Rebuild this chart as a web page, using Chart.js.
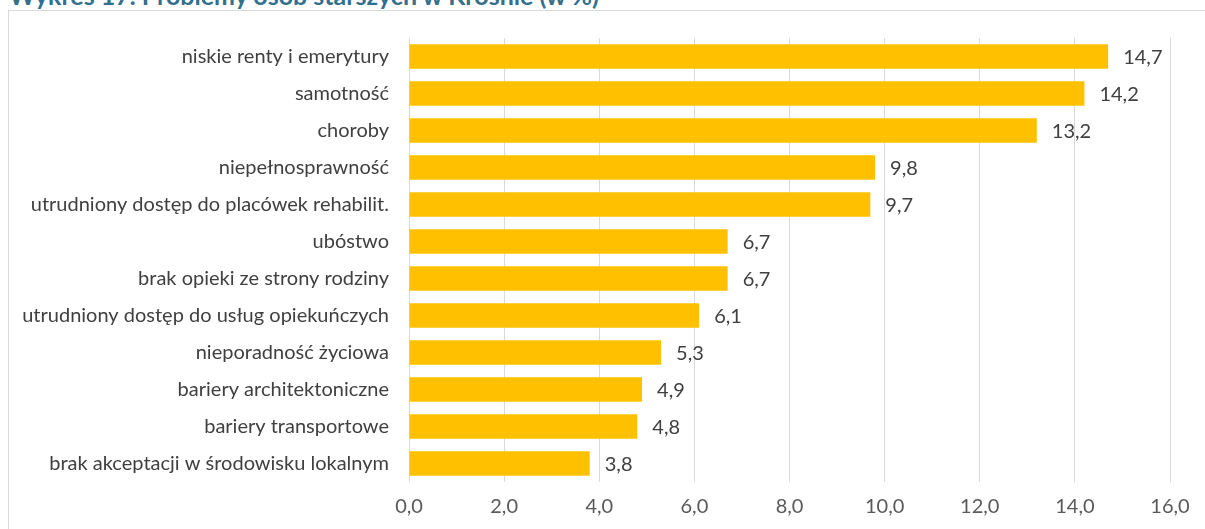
<!DOCTYPE html>
<html>
<head>
<meta charset="utf-8">
<script src="https://cdn.jsdelivr.net/npm/chart.js@4"></script>
<style>
  body { margin: 0; background: #fff; overflow: hidden; }
  #tytul { position: absolute; left: 9px; top: -17px; font: bold 25px Lato; color: #33708c; white-space: nowrap; line-height: 25px; }
  #ramka { position: absolute; left: 8px; top: 10px; width: 1300px; height: 600px; border: 1px solid #d9d9d9; }
  #wrap { position: absolute; left: 0; top: 0; width: 1205px; height: 529px; }
</style>
</head>
<body>
<div id="tytul">Wykres 17. Problemy osób starszych w Krośnie (w %)</div>
<div id="ramka"></div>
<div id="wrap"><canvas id="wykres"></canvas></div>
<script>
// kategorie (od gory)
const kategorie = ['niskie renty i emerytury', 'samotność', 'choroby', 'niepełnosprawność',
  'utrudniony dostęp do placówek rehabilit.', 'ubóstwo', 'brak opieki ze strony rodziny',
  'utrudniony dostęp do usług opiekuńczych', 'nieporadność życiowa', 'bariery architektoniczne',
  'bariery transportowe', 'brak akceptacji w środowisku lokalnym'];
// wartosci w %
const wartosci = [14.7, 14.2, 13.2, 9.8, 9.7, 6.7, 6.7, 6.1, 5.3, 4.9, 4.8, 3.8];

// etykiety na koncu slupkow
const etykiety = {
  id: 'etykiety',
  afterDatasetsDraw(chart) {
    const ctx = chart.ctx;
    ctx.save();
    ctx.font = '20px Lato';
    ctx.fillStyle = '#404040';
    ctx.textBaseline = 'middle';
    chart.getDatasetMeta(0).data.forEach(function (bar, i) {
      ctx.fillText(wartosci[i].toFixed(1).replace('.', ','), bar.x + 15, bar.y + 1);
    });
    ctx.restore();
  }
};

const fontOsi = { family: 'Lato', size: 20 };

new Chart(document.getElementById('wykres'), {
  type: 'bar',
  data: {
    labels: kategorie,
    datasets: [{
      data: wartosci,
      backgroundColor: '#ffc000',
      categoryPercentage: 0.66,
      barPercentage: 1
    }]
  },
  options: {
    indexAxis: 'y',
    responsive: true,
    maintainAspectRatio: false,
    animation: false,
    layout: { padding: { top: 38, right: 35, bottom: 0, left: 0 } },
    plugins: { legend: { display: false }, tooltip: { enabled: false } },
    scales: {
      x: {
        min: 0, max: 16,
        ticks: { stepSize: 2, color: '#595959', font: fontOsi, padding: 13,
          callback: function (v) { return v.toFixed(1).replace('.', ','); } },
        grid: { color: '#d9d9d9', drawTicks: false },
        border: { display: false },
        afterFit: function (s) { s.height = 47; }
      },
      y: {
        ticks: { color: '#404040', font: fontOsi, padding: 12 },
        grid: { display: false },
        border: { display: false },
        afterFit: function (s) { s.width = 409; }
      }
    }
  },
  plugins: [etykiety]
});
</script>
</body>
</html>
